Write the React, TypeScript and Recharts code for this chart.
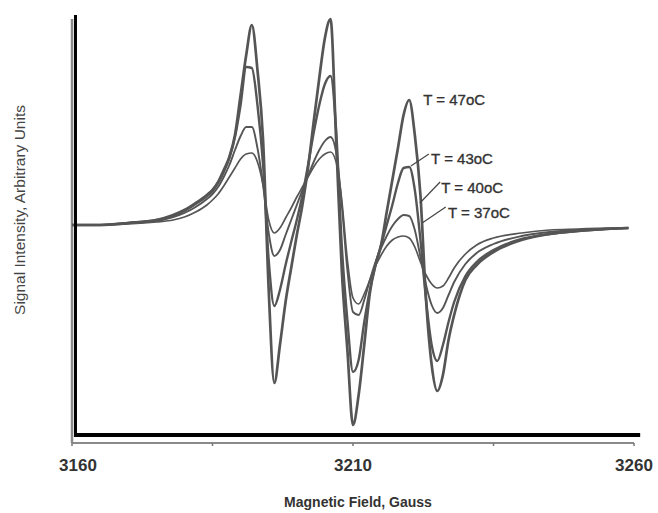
import { LineChart, Line, XAxis, YAxis, ReferenceLine, ReferenceDot } from 'recharts';

// magnetic field (Gauss) at which the traces were read
const fields = [
  3160, 3165, 3170, 3175, 3178, 3180, 3182, 3184, 3185, 3186, 3187, 3188, 3189, 3190, 3191, 3192,
  3193, 3194, 3195, 3196, 3197, 3198, 3199, 3200, 3201, 3202, 3203, 3204, 3205, 3206, 3207, 3208,
  3209, 3210, 3211, 3212, 3213, 3214, 3215, 3216, 3217, 3218, 3219, 3220, 3221, 3222, 3223, 3224,
  3225, 3226, 3227, 3228, 3230, 3232, 3235, 3240, 3245, 3250, 3255, 3259,
];

// signal intensity, arbitrary units (0 = baseline)
const t47 = [
  0, 0, 2, 5, 10, 15, 22, 30, 35, 43, 55, 68, 90, 130, 170, 200,
  155, 85, -65, -158, -120, -77, -43, -10, 20, 57, 103, 147, 187, 206, 85, -45,
  -125, -200, -170, -120, -68, -40, -20, 13, 45, 77, 110, 125, 90, 30, -75, -140,
  -166, -150, -115, -90, -55, -40, -27, -15, -9, -6, -4, -3,
];
const t43 = [
  0, 0, 2, 5, 9, 14, 21, 29, 34, 42, 53, 67, 88, 120, 158, 157,
  120, 60, -35, -81, -65, -40, -17, 5, 30, 60, 92, 120, 141, 149, 95, -20,
  -95, -147, -135, -97, -65, -40, -20, 0, 20, 42, 57, 58, 35, -15, -75, -120,
  -136, -120, -97, -77, -51, -37, -25, -14, -9, -6, -4, -3,
];
const t40 = [
  0, 0, 2, 4, 8, 12, 18, 26, 31, 38, 48, 60, 75, 89, 98, 98,
  77, 40, -8, -31, -25, -10, 5, 20, 35, 49, 63, 75, 84, 88, 73, 20,
  -45, -87, -90, -75, -55, -37, -23, -11, -1, 6, 10, 9, -5, -32, -60, -80,
  -88, -83, -70, -57, -39, -28, -19, -11, -7, -5, -4, -3,
];
const t37 = [
  0, 0, 1, 3, 5, 8, 13, 20, 25, 31, 39, 48, 57, 66, 71, 72,
  63, 40, 5, -8, -3, 7, 17, 28, 38, 48, 58, 66, 71, 73, 63, 25,
  -35, -73, -79, -69, -55, -41, -30, -21, -15, -12, -11, -13, -22, -37, -50, -59,
  -63, -61, -53, -43, -29, -20, -13, -8, -5, -4, -3, -3,
];

const xTicks = [3160, 3185, 3210, 3235, 3260];
const labelledTicks = [3160, 3210, 3260];

const series = [
  { key: 't47', width: 2.7 },
  { key: 't43', width: 2.4 },
  { key: 't40', width: 1.9 },
  { key: 't37', width: 1.7 },
];

// temperature labels and their leader lines
const tempLabels = [
  { text: 'T = 47oC', x: 3222.5, y: 126 },
  { text: 'T = 43oC', x: 3223.9, y: 67 },
  { text: 'T = 40oC', x: 3225.7, y: 38 },
  { text: 'T = 37oC', x: 3226.9, y: 13 },
];
const leaders = [
  [{ x: 3220.3, y: 59 }, { x: 3223.5, y: 71 }],
  [{ x: 3221.9, y: 22 }, { x: 3225.5, y: 43 }],
  [{ x: 3222.3, y: 2 }, { x: 3226.5, y: 18 }],
];

const data = fields.map((g, i) => ({ g, t47: t47[i], t43: t43[i], t40: t40[i], t37: t37[i] }));

const FONT = '"Liberation Sans", Arial, sans-serif';

function FieldTick({ x, y, payload }: any) {
  if (!labelledTicks.includes(payload.value)) return null;
  const dx = payload.value === 3160 ? 6 : 0;
  return (
    <text x={x + dx} y={y + 23} textAnchor="middle" fontFamily={FONT} fontWeight="bold" fontSize={17} fill="#333">
      {payload.value}
    </text>
  );
}

export default function App() {
  return (
    <div style={{ position: 'absolute', left: 0, top: 0, width: 658, height: 513, background: '#fff' }}>
      <LineChart width={658} height={513} data={data} margin={{ top: 15, right: 24, bottom: 40, left: 72 }}>
        <XAxis
          dataKey="g"
          type="number"
          domain={[3160, 3260]}
          ticks={xTicks}
          height={30}
          axisLine={{ stroke: '#8a8a8a', strokeWidth: 2 }}
          tickLine={{ stroke: '#777', strokeWidth: 1.5 }}
          tickSize={3}
          tick={<FieldTick />}
          allowDataOverflow
        />
        <YAxis hide type="number" domain={[-218, 210]} allowDataOverflow />
        <ReferenceLine segment={[{ x: 3160, y: 206 }, { x: 3160, y: -218 }]} stroke="#8a8a8a" strokeWidth={2.5} ifOverflow="visible" />
        {series.map((s) => (
          <Line
            key={s.key}
            type="monotone"
            dataKey={s.key}
            stroke="#555"
            strokeWidth={s.width}
            dot={false}
            isAnimationActive={false}
          />
        ))}
        <ReferenceLine segment={[{ x: 3160.62, y: 210 }, { x: 3160.62, y: -212 }]} stroke="#000" strokeWidth={3} ifOverflow="visible" />
        <ReferenceLine segment={[{ x: 3160.5, y: -210 }, { x: 3261.1, y: -210 }]} stroke="#000" strokeWidth={4} ifOverflow="visible" />
        {leaders.map((seg, i) => (
          <ReferenceLine key={`lead-${i}`} segment={seg} stroke="#444" strokeWidth={1.2} ifOverflow="visible" />
        ))}
        {tempLabels.map((l) => (
          <ReferenceDot
            key={l.text}
            x={l.x}
            y={l.y}
            r={0}
            ifOverflow="visible"
            shape={(p: any) => (
              <text x={p.cx} y={p.cy} dominantBaseline="central" fontFamily={FONT} fontSize={15} fill="#333" stroke="#333" strokeWidth={0.35}>
                {l.text}
              </text>
            )}
          />
        ))}
      </LineChart>
      <div
        style={{
          position: 'absolute', left: 358, top: 502, transform: 'translate(-50%, -50%)',
          fontFamily: FONT, fontWeight: 'bold', fontSize: 14, color: '#333', whiteSpace: 'nowrap',
        }}
      >
        Magnetic Field, Gauss
      </div>
      <div
        style={{
          position: 'absolute', left: 20, top: 210, transform: 'translate(-50%, -50%) rotate(-90deg)',
          fontFamily: FONT, fontSize: 15.5, color: '#444', whiteSpace: 'nowrap',
        }}
      >
        Signal Intensity, Arbitrary Units
      </div>
    </div>
  );
}
